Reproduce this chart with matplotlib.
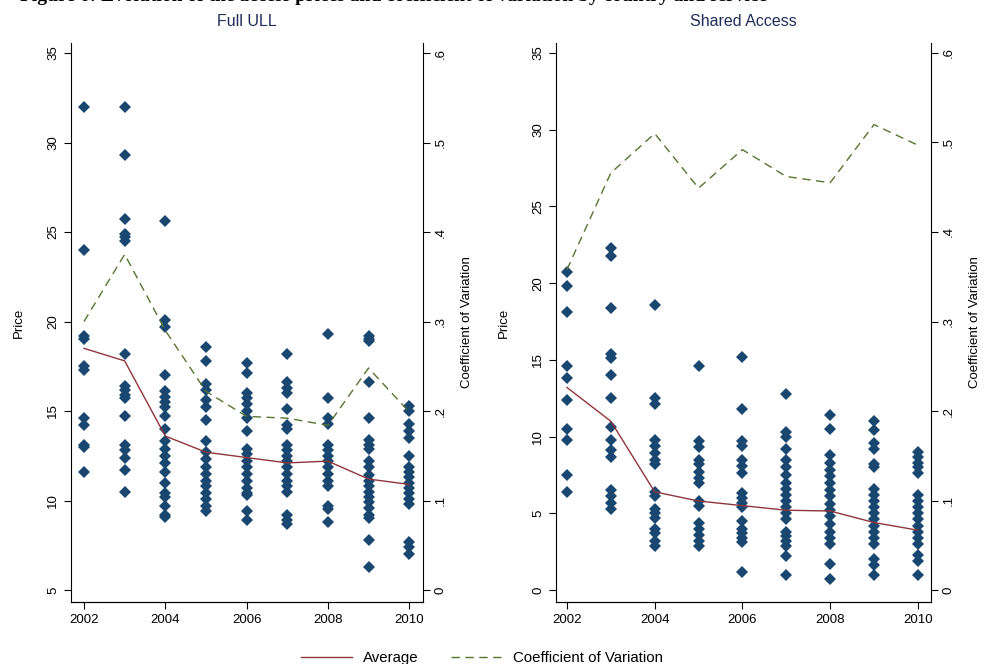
import matplotlib.pyplot as plt
from matplotlib.lines import Line2D

plt.rcParams['font.family'] = ['Liberation Sans', 'DejaVu Sans']

years = [2002, 2003, 2004, 2005, 2006, 2007, 2008, 2009, 2010]

# Full ULL: price observations per year
ull_prices = {
    2002: [32.0, 24.0, 19.2, 19.0, 17.5, 17.3, 14.6, 14.2, 13.1, 13.0, 11.6],
    2003: [32.0, 29.3, 25.7, 24.9, 24.7, 24.5, 18.2, 16.4, 16.2, 15.9, 15.7, 14.7,
           13.1, 12.8, 12.4, 11.7, 10.5],
    2004: [25.6, 20.1, 19.7, 17.0, 16.1, 15.8, 15.5, 15.2, 14.7, 14.0, 13.3, 12.9,
           12.5, 12.1, 11.6, 11.0, 10.4, 10.2, 9.7, 9.2, 9.1],
    2005: [18.6, 17.8, 16.5, 16.2, 15.6, 15.2, 14.5, 13.3, 12.7, 12.3, 11.9, 11.5,
           11.1, 10.8, 10.4, 10.1, 9.7, 9.4],
    2006: [17.7, 17.1, 16.0, 15.7, 15.4, 15.0, 14.6, 13.9, 12.9, 12.6, 12.2, 11.9,
           11.5, 11.1, 10.7, 10.4, 10.3, 9.4, 8.9],
    2007: [18.2, 16.6, 16.3, 16.0, 15.1, 14.2, 14.0, 13.1, 12.8, 12.5, 12.2, 11.9,
           11.5, 11.1, 10.8, 10.5, 9.2, 8.9, 8.7],
    2008: [19.3, 15.7, 14.6, 14.3, 13.1, 12.8, 12.5, 12.2, 11.9, 11.5, 11.1, 10.8,
           9.7, 9.5, 8.8],
    2009: [19.2, 19.0, 18.9, 16.6, 14.6, 13.4, 13.1, 12.9, 12.2, 11.9, 11.4, 11.1,
           10.8, 10.5, 10.2, 9.9, 9.6, 9.2, 9.0, 7.8, 6.3],
    2010: [15.3, 15.0, 14.3, 13.9, 13.5, 12.5, 11.9, 11.6, 11.3, 11.0, 10.7, 10.4,
           10.1, 9.8, 7.7, 7.4, 7.0],
}
ull_avg = [18.5, 17.8, 13.6, 12.7, 12.4, 12.1, 12.2, 11.2, 10.9]
ull_cv = [0.300, 0.375, 0.290, 0.222, 0.194, 0.192, 0.184, 0.248, 0.199]

# Shared Access: price observations per year
sa_prices = {
    2002: [20.7, 19.8, 18.1, 14.6, 13.8, 12.4, 10.5, 9.8, 7.5, 6.4],
    2003: [22.3, 21.8, 18.4, 15.4, 15.1, 14.0, 12.5, 10.6, 9.8, 9.1, 8.7, 6.5, 6.1,
           5.7, 5.3],
    2004: [18.6, 12.5, 12.1, 9.8, 9.4, 8.9, 8.5, 8.2, 6.4, 6.1, 5.3, 5.0, 4.7, 4.0,
           3.7, 3.2, 2.9],
    2005: [14.6, 9.7, 9.3, 8.5, 8.2, 7.7, 7.3, 7.0, 5.8, 5.5, 4.4, 4.0, 3.6, 3.2, 2.9],
    2006: [15.2, 11.8, 9.7, 9.4, 8.5, 8.1, 7.6, 6.3, 6.0, 5.7, 5.4, 4.5, 4.0, 3.7,
           3.4, 3.1, 1.2],
    2007: [12.8, 10.3, 10.0, 9.2, 8.5, 8.0, 7.5, 7.0, 6.6, 6.2, 5.8, 5.4, 5.0, 4.6,
           3.8, 3.5, 3.2, 2.9, 2.2, 1.0],
    2008: [11.4, 10.5, 8.8, 8.3, 7.8, 7.4, 7.0, 6.5, 6.1, 5.6, 5.2, 4.8, 4.3, 3.8,
           3.4, 3.0, 1.7, 0.7],
    2009: [11.0, 10.4, 9.6, 9.2, 8.2, 8.0, 6.6, 6.2, 5.8, 5.4, 5.0, 4.6, 4.2, 3.8,
           3.4, 3.0, 2.0, 1.6, 1.0],
    2010: [9.0, 8.7, 8.3, 8.0, 7.6, 6.2, 5.8, 5.4, 5.0, 4.6, 4.2, 3.8, 3.4, 3.0,
           2.3, 1.9, 1.0],
}
sa_avg = [13.2, 11.0, 6.4, 5.8, 5.5, 5.2, 5.15, 4.4, 3.9]
sa_cv = [0.358, 0.466, 0.510, 0.449, 0.492, 0.462, 0.455, 0.520, 0.497]

navy = '#1a476f'
maroon = '#90353b'
green = '#55752f'
title_col = '#1e2d5a'

fig = plt.figure(figsize=(9.84, 6.64), dpi=100)

# page caption sits above the figure, only its lowest pixels show
fig.text(0.02, 1 - 1.0 / 664,
         'Figure 6: Evolution of the access prices and coefficient of variation by country and service',
         family='Liberation Serif', fontweight='bold', fontsize=14, va='baseline', ha='left')


def panel(rect, title, prices, avg, cv, ylim, xlim, yticks, cvlim):
    ax = fig.add_axes(rect)
    for yr in years:
        ax.plot([yr] * len(prices[yr]), prices[yr], 'D', color=navy, markersize=6.5,
                markeredgewidth=0, zorder=3)
    ax.plot(years, avg, '-', color=maroon, linewidth=1.0, zorder=4)
    ax.set_xlim(*xlim)
    ax.set_ylim(*ylim)
    ax.set_xticks([2002, 2004, 2006, 2008, 2010])
    ax.set_yticks(yticks)
    ax.set_yticklabels([str(t) for t in yticks], rotation=90, va='center')
    ax.set_ylabel('Price', fontsize=9.5, labelpad=16)
    ax.set_title(title, fontsize=11.5, color=title_col, pad=12)
    ax.spines['top'].set_visible(False)
    ax.spines['right'].set_visible(False)
    ax.tick_params(direction='out', length=5, labelsize=9.5)

    ax2 = ax.twinx()
    ax2.plot(years, cv, '--', color=green, linewidth=1.0, dashes=(6, 4), zorder=4)
    ax2.set_ylim(*cvlim)
    cvt = [0, 0.1, 0.2, 0.3, 0.4, 0.5, 0.6]
    ax2.set_yticks(cvt)
    ax2.set_yticklabels(['0', '.1', '.2', '.3', '.4', '.5', '.6'], rotation=90, va='center')
    ax2.set_ylabel('Coefficient of Variation', fontsize=9.5, labelpad=10)
    ax2.spines['top'].set_visible(False)
    ax2.spines['left'].set_visible(False)
    ax2.tick_params(direction='out', length=5, labelsize=9.5)
    return ax


# left: price 5..35 maps to cv 0..0.6
lo, hi = 4.33, 35.56
panel([71 / 984, 1 - 602 / 664, 352 / 984, 559 / 664], 'Full ULL', ull_prices, ull_avg, ull_cv,
      (lo, hi), (2001.68, 2010.34), [5, 10, 15, 20, 25, 30, 35],
      ((lo - 5) * 0.02, (hi - 5) * 0.02))

# right: price 0..35 maps to cv 0..0.6
lo, hi = -0.78, 35.65
panel([556 / 984, 1 - 602 / 664, 375 / 984, 559 / 664], 'Shared Access', sa_prices, sa_avg, sa_cv,
      (lo, hi), (2001.75, 2010.3), [0, 5, 10, 15, 20, 25, 30, 35],
      (lo * 0.6 / 35, hi * 0.6 / 35))

handles = [Line2D([], [], color=maroon, linewidth=1.0),
           Line2D([], [], color=green, linewidth=1.0, linestyle='--', dashes=(6, 4))]
fig.legend(handles, ['Average', 'Coefficient of Variation'], loc='lower center',
           bbox_to_anchor=(0.49, -0.022), ncol=2, frameon=False, fontsize=10.8,
           handlelength=3.4, handletextpad=0.7, columnspacing=2.2)

fig.savefig('out.png', dpi=100)
